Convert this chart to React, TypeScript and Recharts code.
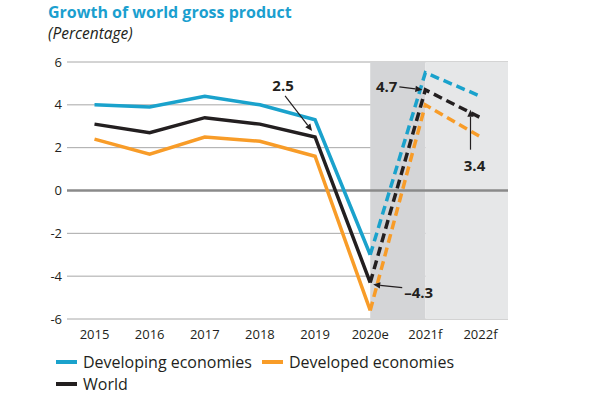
import React from 'react';
import {
  LineChart,
  Line,
  XAxis,
  YAxis,
  CartesianGrid,
  ReferenceArea,
  ReferenceLine,
} from 'recharts';

const years = ['2015', '2016', '2017', '2018', '2019', '2020e', '2021f', '2022f'];
const developing = [4.0, 3.9, 4.4, 4.0, 3.3, -3.0, 5.5, 4.4];
const developed = [2.4, 1.7, 2.5, 2.3, 1.6, -5.6, 4.0, 2.5];
const world = [3.1, 2.7, 3.4, 3.1, 2.5, -4.3, 4.7, 3.4];
const yTicks = [-6, -4, -2, 0, 2, 4, 6];
// first estimated year: solid lines end here, dashed ones begin
const SPLIT = 5;

const BLUE = '#1aa2cc';
const ORANGE = '#f89c28';
const BLACK = '#231f20';
const HALF_BAND = 27.5;

const data = years.map((year, i) => ({
  year,
  developing: i <= SPLIT ? developing[i] : null,
  developingF: i >= SPLIT ? developing[i] : null,
  developed: i <= SPLIT ? developed[i] : null,
  developedF: i >= SPLIT ? developed[i] : null,
  world: i <= SPLIT ? world[i] : null,
  worldF: i >= SPLIT ? world[i] : null,
}));

// callout placement relative to the data point (text centre, arrow start, arrow end)
const callouts: Record<number, { tx: number; ty: number; ax: number; ay: number; bx: number; by: number; anchor: string }> = {
  4: { tx: -32, ty: -52, ax: -30, ay: -41, bx: -3, by: -6, anchor: 'middle' },
  5: { tx: 34, ty: 9, ax: 32, ay: 5, bx: 3, by: 2, anchor: 'start' },
  6: { tx: -28, ty: -4, ax: -26, ay: -3, bx: -3, by: 0, anchor: 'end' },
  7: { tx: -6, ty: 47, ax: -10, ay: 32, bx: -10, by: -8, anchor: 'middle' },
};

const Arrow = ({ x1, y1, x2, y2 }: { x1: number; y1: number; x2: number; y2: number }) => {
  const a = Math.atan2(y2 - y1, x2 - x1);
  const L = 7;
  const W = 3.2;
  const bx = x2 - L * Math.cos(a);
  const by = y2 - L * Math.sin(a);
  const pts = [
    [x2, y2],
    [bx - W * Math.sin(a), by + W * Math.cos(a)],
    [bx + W * Math.sin(a), by - W * Math.cos(a)],
  ]
    .map((p) => p.join(','))
    .join(' ');
  return (
    <g>
      <line x1={x1} y1={y1} x2={bx} y2={by} stroke={BLACK} strokeWidth={1.2} />
      <polygon points={pts} fill={BLACK} />
    </g>
  );
};

const makeCallout = (allowed: number[]) => (props: any) => {
  const { x, y, index } = props;
  if (!allowed.includes(index) || x == null || y == null) return null;
  const c = callouts[index];
  const v = world[index];
  const text = v < 0 ? `\u2013${Math.abs(v).toFixed(1)}` : v.toFixed(1);
  return (
    <g key={`callout-${index}`}>
      <Arrow x1={x + c.ax} y1={y + c.ay} x2={x + c.bx} y2={y + c.by} />
      <text
        x={x + c.tx}
        y={y + c.ty}
        textAnchor={c.anchor as any}
        dominantBaseline="central"
        fontSize={15}
        fontWeight={700}
        fill={BLACK}
      >
        {text}
      </text>
    </g>
  );
};

const legendItems = [
  { label: 'Developing economies', color: BLUE },
  { label: 'Developed economies', color: ORANGE },
  { label: 'World', color: BLACK },
];

const LightShade = (p: any) => (
  <rect x={p.x} y={p.y} width={p.width + HALF_BAND} height={p.height} fill="#e6e7e8" />
);

export default function App() {
  return (
    <div
      style={{
        position: 'absolute',
        left: 0,
        top: 0,
        width: 608,
        height: 399,
        background: '#fff',
        fontFamily: '"Open Sans", sans-serif',
      }}
    >
      <div style={{ position: 'absolute', left: 48, top: 2, fontSize: 16, lineHeight: '20px', fontWeight: 700, color: '#1b9fcf' }}>
        Growth of world gross product
      </div>
      <div style={{ position: 'absolute', left: 48, top: 23, fontSize: 15.5, lineHeight: '20px', fontStyle: 'italic', color: BLACK }}>
        (Percentage)
      </div>
      <LineChart width={608} height={399} data={data} margin={{ top: 62, right: 100, bottom: 50, left: 0 }}>
        <ReferenceArea x1="2020e" x2="2021f" fill="#d4d5d7" fillOpacity={1} ifOverflow="visible" />
        <ReferenceArea x1="2021f" x2="2022f" shape={LightShade} ifOverflow="visible" />
        <CartesianGrid vertical={false} stroke="#a8a8a8" strokeWidth={1} />
        <ReferenceLine y={0} stroke="#8a8a8a" strokeWidth={2.5} />
        <XAxis
          dataKey="year"
          interval={0}
          padding={{ left: HALF_BAND, right: HALF_BAND }}
          axisLine={false}
          tickLine={false}
          tickSize={0}
          tickMargin={11}
          tick={{ fontSize: 13, fill: BLACK }}
        />
        <YAxis
          domain={[-6, 6]}
          ticks={yTicks}
          width={67}
          axisLine={false}
          tickLine={false}
          tickSize={0}
          tickMargin={5}
          tick={{ fontSize: 13, fill: BLACK }}
        />
        <Line dataKey="developing" stroke={BLUE} strokeWidth={3.5} dot={false} isAnimationActive={false} />
        <Line dataKey="developed" stroke={ORANGE} strokeWidth={3.5} dot={false} isAnimationActive={false} />
        <Line
          dataKey="world"
          stroke={BLACK}
          strokeWidth={3.5}
          dot={false}
          isAnimationActive={false}
          label={makeCallout([4])}
        />
        <Line dataKey="developingF" stroke={BLUE} strokeWidth={3.5} strokeDasharray="9 5" dot={false} isAnimationActive={false} />
        <Line dataKey="developedF" stroke={ORANGE} strokeWidth={3.5} strokeDasharray="9 5" dot={false} isAnimationActive={false} />
        <Line
          dataKey="worldF"
          stroke={BLACK}
          strokeWidth={3.5}
          strokeDasharray="9 5"
          dot={false}
          isAnimationActive={false}
          label={makeCallout([5, 6, 7])}
        />
      </LineChart>
      <div
        style={{
          position: 'absolute',
          left: 56,
          top: 351,
          width: 440,
          display: 'flex',
          flexWrap: 'wrap',
          fontSize: 16,
          lineHeight: '22px',
          color: BLACK,
        }}
      >
        {legendItems.map((it) => (
          <div key={it.label} style={{ display: 'flex', alignItems: 'center', marginRight: 10 }}>
            <span style={{ display: 'inline-block', width: 21, height: 4, background: it.color, marginRight: 6 }} />
            <span>{it.label}</span>
          </div>
        ))}
      </div>
    </div>
  );
}
